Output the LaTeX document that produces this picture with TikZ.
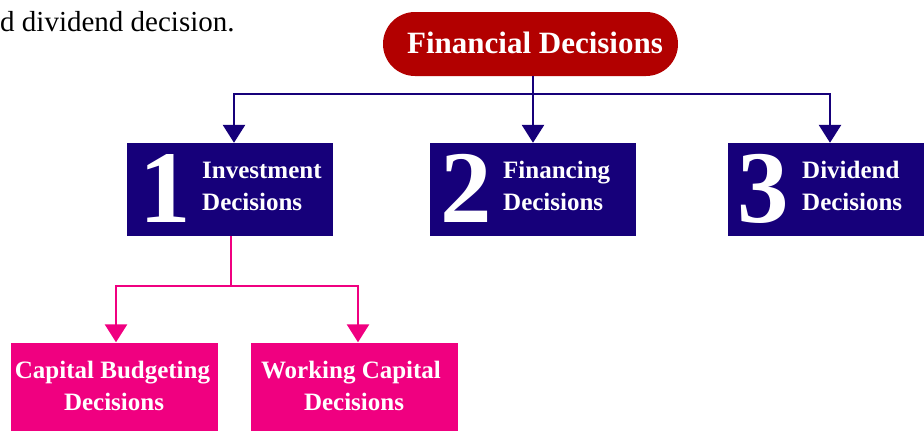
\documentclass[tikz,border=0pt]{standalone}
\usepackage{fontspec}
\setmainfont{Liberation Serif}
\usetikzlibrary{arrows.meta,positioning}

\definecolor{finred}{RGB}{178,0,0}
\definecolor{decblue}{RGB}{22,0,122}
\definecolor{invpink}{RGB}{240,0,128}

\begin{document}
\begin{tikzpicture}[x=1pt,y=-1pt,
  pill/.style={rectangle, rounded corners=32pt, fill=finred, minimum width=295pt, minimum height=64pt, inner sep=0pt},
  decbox/.style={rectangle, fill=decblue, minimum width=206pt, minimum height=93pt, inner sep=0pt},
  subbox/.style={rectangle, fill=invpink, minimum width=207pt, minimum height=88pt, inner sep=0pt},
  bignum/.style={text=white, anchor=base, inner sep=0pt, font=\fontsize{103}{103}\selectfont\bfseries},
  lbl/.style={text=white, inner sep=0pt, font=\fontsize{25}{30}\selectfont\bfseries},
  link/.style={draw=decblue, line width=2.8pt, -{Triangle[width=22pt,length=18pt]}},
  plink/.style={draw=invpink, line width=2.8pt, -{Triangle[width=22pt,length=18pt]}},
  ]
  \clip (0,0) rectangle (924,431);

  \node [anchor=base west, inner sep=0pt, font=\fontsize{29}{34}\selectfont] (intro) at (0,31) {d dividend decision.};

  % top node
  \node [pill] (fin) at (530.5,44) {};
  \node [text=white, anchor=base, inner sep=0pt, font=\fontsize{31}{36}\selectfont\bfseries] (finlbl) at (535,53) {Financial Decisions};

  % the three decisions
  \node [decbox] (inv) at (230,189.5) {};
  \node [decbox] (fng) at (532.5,189.5) {};
  \node [decbox] (div) at (830.5,189.5) {};

  \node [bignum] (n1) at (165,222) {1};
  \node [bignum] (n2) at (466,222) {2};
  \node [bignum] (n3) at (763,222) {3};

  \node [lbl, anchor=base west] (inv1) at (202,178) {Investment};
  \node [lbl, anchor=base west] (inv2) at (202,210) {Decisions};
  \node [lbl, anchor=base west] (fng1) at (503,178) {Financing};
  \node [lbl, anchor=base west] (fng2) at (503,210) {Decisions};
  \node [lbl, anchor=base west] (div1) at (802,178) {Dividend};
  \node [lbl, anchor=base west] (div2) at (802,210) {Decisions};

  % investment split
  \node [subbox] (cap) at (114,386.5) {};
  \node [subbox] (wc) at (354.5,386.5) {};
  \node [lbl, anchor=base] (cap1) at (112.5,378) {Capital Budgeting};
  \node [lbl, anchor=base] (cap2) at (114,410) {Decisions};
  \node [lbl, anchor=base] (wc1) at (351,378) {Working Capital};
  \node [lbl, anchor=base] (wc2) at (354,410) {Decisions};

  % connectors
  \coordinate (d1) at (234,94);
  \coordinate (d2) at (533,94);
  \coordinate (d3) at (830,94);
  \path [link] (d2) -| (d1 |- inv.north);
  \path [link] (d2) -| (d3 |- div.north);
  \path [link] (fin.south -| d2) -- (d2 |- fng.north);

  \coordinate (m) at (231,286);
  \coordinate (p1) at (116,286);
  \coordinate (p2) at (358,286);
  \path [plink] (m) -| (p1 |- cap.north);
  \path [plink] (m) -| (p2 |- wc.north);
  \draw [invpink, line width=2.8pt] (m |- inv.south) -- (m);
\end{tikzpicture}
\end{document}
